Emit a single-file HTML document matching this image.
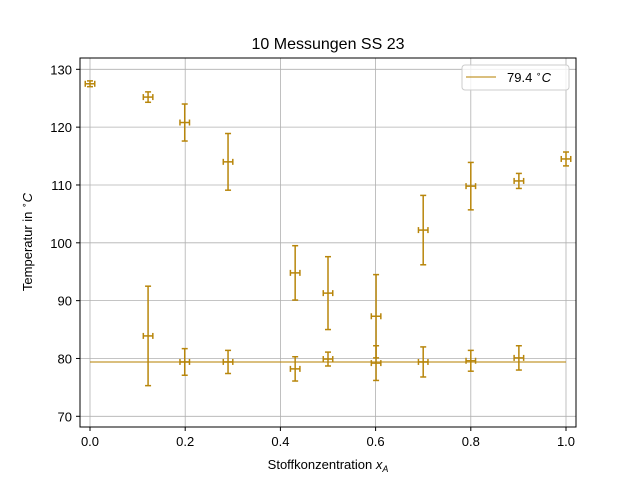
<!DOCTYPE html>
<html><head><meta charset="utf-8"><style>
body{margin:0;background:#fff;}
svg{display:block;font-family:"Liberation Sans","DejaVu Sans",sans-serif;}
</style></head><body>
<svg id="chart" width="640" height="480">
<rect width="640" height="480" fill="#fff"/>
<g id="grid"></g>
<g id="marks"></g>
<rect x="80" y="58" width="496" height="369" fill="none" stroke="#000" stroke-width="1"/>
<g id="ticks"></g>
<text x="328" y="49" text-anchor="middle" font-size="16">10 Messungen SS 23</text>
<text x="328" y="469" text-anchor="middle" font-size="13">Stoffkonzentration <tspan font-style="italic">x</tspan><tspan font-style="italic" font-size="9" dy="3">A</tspan></text>
<text transform="translate(32,242) rotate(-90)" text-anchor="middle" font-size="13">Temperatur in <tspan font-size="9" dy="-5">∘</tspan><tspan dy="5" font-style="italic">C</tspan></text>
<g>
<rect x="462" y="65" width="107" height="25" rx="3" fill="#fff" fill-opacity="0.8" stroke="#ccc"/>
<line x1="466" y1="77" x2="496" y2="77" stroke="#b8860b" stroke-opacity="0.7" stroke-width="1.5"/>
<text x="507" y="82" font-size="13">79.4 <tspan font-size="9" dy="-5">∘</tspan><tspan dy="5" font-style="italic">C</tspan></text>
</g>
</svg>
<script>
const upperX=[0,0.122,0.199,0.29,0.431,0.5,0.601,0.7,0.8,0.901,1.0];
const upperY=[127.5,125.2,120.8,114.0,94.8,91.3,87.3,102.2,109.8,110.7,114.5];
const upperErr=[0.5,0.9,3.2,4.9,4.7,6.3,7.2,6.0,4.1,1.3,1.2];
const lowerX=[0.122,0.199,0.29,0.431,0.5,0.601,0.7,0.8,0.901];
const lowerY=[83.9,79.4,79.4,78.2,79.9,79.2,79.4,79.6,80.1];
const lowerErr=[8.6,2.3,2.0,2.1,1.2,3.0,2.6,1.8,2.1];
const xErr=0.01;
const meanT=79.4;
const xTicks=[0,0.2,0.4,0.6,0.8,1.0];
const xTickLabels=["0.0","0.2","0.4","0.6","0.8","1.0"];
const yTicks=[70,80,90,100,110,120,130];
const NS="http://www.w3.org/2000/svg";
function sx(v){return 90+v*476;}
function sy(v){return 416.3-(v-70)*5.783;}
function mk(tag,attrs,parent){const e=document.createElementNS(NS,tag);for(const k in attrs)e.setAttribute(k,attrs[k]);parent.appendChild(e);return e;}
const grid=document.getElementById('grid'),marks=document.getElementById('marks'),ticks=document.getElementById('ticks');
xTicks.forEach((t,i)=>{
 const g=mk('line',{x1:sx(t),x2:sx(t),y1:58,y2:427,stroke:'#b0b0b0','stroke-width':0.8},grid);
 
 
 const tk=mk('line',{x1:sx(t),x2:sx(t),y1:427,y2:431,stroke:'#000'},ticks);
 
 
 const tx=mk('text',{x:sx(t),y:446,'text-anchor':'middle','font-size':13},ticks);
 tx.textContent=xTickLabels[i];
 
 
});
yTicks.forEach(t=>{
 const g=mk('line',{x1:80,x2:576,y1:sy(t),y2:sy(t),stroke:'#b0b0b0','stroke-width':0.8},grid);
 
 
 const tk=mk('line',{x1:76,x2:80,y1:sy(t),y2:sy(t),stroke:'#000'},ticks);
 
 
 const tx=mk('text',{x:72,y:sy(t)+5,'text-anchor':'end','font-size':13},ticks);
 tx.textContent=String(t);
 
 
});
const ml=mk('line',{x1:sx(0),x2:sx(1),y1:sy(meanT),y2:sy(meanT),stroke:'#b8860b','stroke-opacity':0.7,'stroke-width':1.5},marks);


function drawPts(xs,ys,es,name){
 xs.forEach((x,i)=>{
  const g=mk('g',{stroke:'#b8860b','stroke-width':1.5},marks);
  
  
  const cx=sx(x),cy=sy(ys[i]),y1=sy(ys[i]+es[i]),y2=sy(ys[i]-es[i]),x1=sx(x-xErr),x2=sx(x+xErr);
  mk('line',{x1:cx,x2:cx,y1:y1,y2:y2},g);
  mk('line',{x1:cx-3,x2:cx+3,y1:y1,y2:y1},g);
  mk('line',{x1:cx-3,x2:cx+3,y1:y2,y2:y2},g);
  mk('line',{x1:x1,x2:x2,y1:cy,y2:cy},g);
  mk('line',{x1:x1,x2:x1,y1:cy-3,y2:cy+3},g);
  mk('line',{x1:x2,x2:x2,y1:cy-3,y2:cy+3},g);
 });
}
drawPts(upperX,upperY,upperErr,'upper-point');
drawPts(lowerX,lowerY,lowerErr,'lower-point');
</script>
</body></html>
